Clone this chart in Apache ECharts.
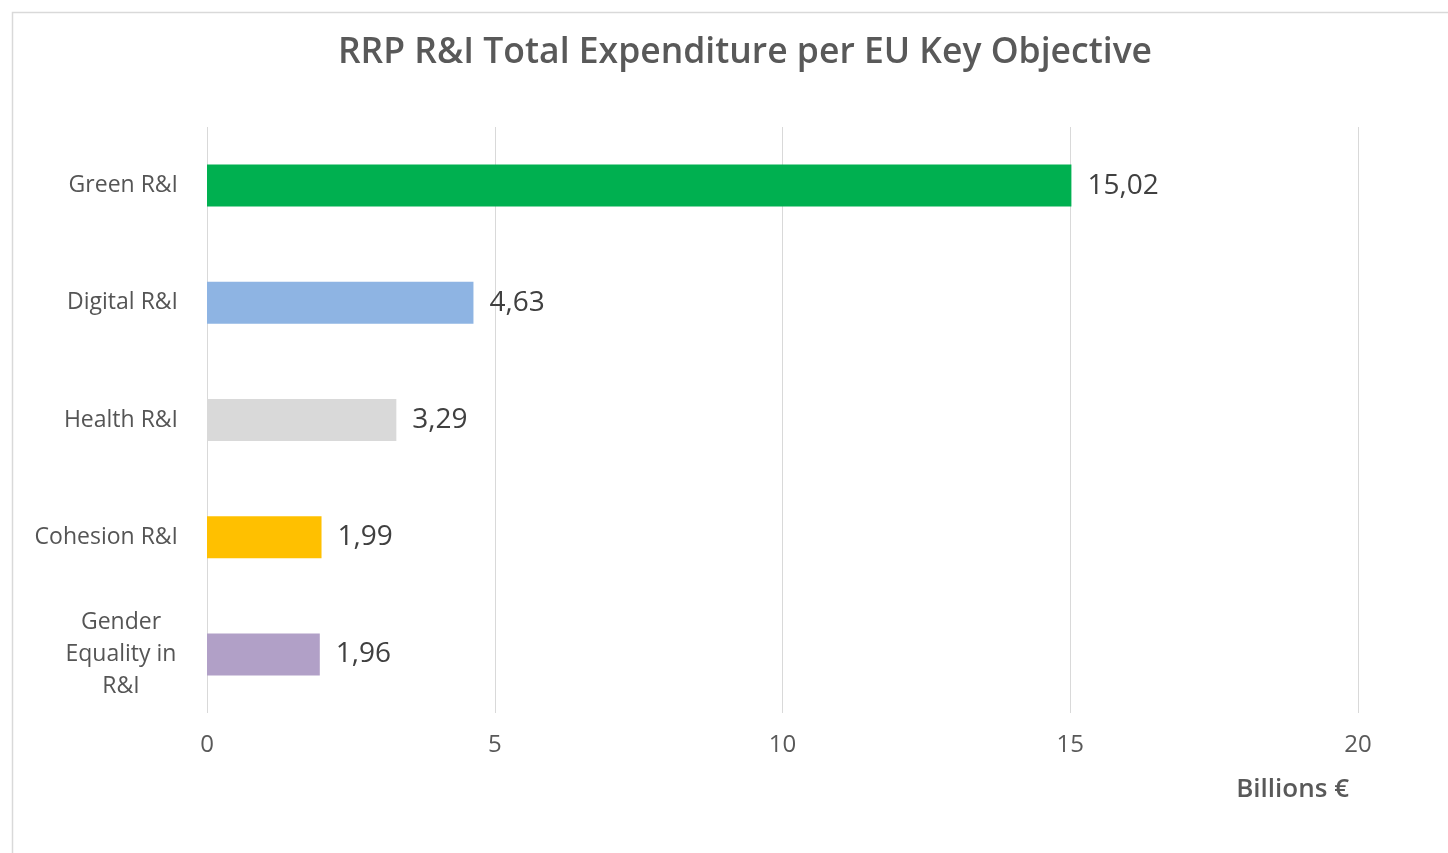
<!DOCTYPE html>
<html>
<head>
<meta charset="utf-8">
<script src="https://cdn.jsdelivr.net/npm/echarts@6/dist/echarts.min.js"></script>
<style>html,body{margin:0;padding:0;background:#fff;}#c{width:1448px;height:853px;}</style>
</head>
<body>
<div id="c"></div>
<script>
const categories = ['Green R&I', 'Digital R&I', 'Health R&I', 'Cohesion R&I', 'Gender Equality in R&I'];
const values = [15.02, 4.63, 3.29, 1.99, 1.96];
const colors = ['#00B050', '#8EB4E3', '#D9D9D9', '#FFC000', '#B1A0C7'];
const xTicks = [0, 5, 10, 15, 20];

const FONT = '"Open Sans", "Noto Sans", sans-serif';
const chart = echarts.init(document.getElementById('c'));
chart.setOption({
  animation: false,
  backgroundColor: '#fff',
  graphic: [{
    type: 'rect', shape: {x: 12.5, y: 12.5, width: 1480, height: 900},
    style: {fill: 'none', stroke: '#d9d9d9', lineWidth: 1.5}, silent: true, z: -1
  }],
  title: [{
    text: 'RRP R&I Total Expenditure per EU Key Objective',
    left: 740, top: 30, textAlign: 'center',
    textStyle: {fontFamily: FONT, fontSize: 35.5, fontWeight: 600, color: '#595959'}
  }, {
    text: 'Billions €',
    right: 94, top: 772,
    textStyle: {fontFamily: FONT, fontSize: 26, fontWeight: 600, color: '#595959'}
  }],
  grid: {left: 207, right: 90, top: 127, bottom: 140},
  xAxis: {
    type: 'value', min: 0, max: 20, interval: 5,
    axisLine: {show: false}, axisTick: {show: false},
    splitLine: {show: true, lineStyle: {color: '#d9d9d9', width: 1}},
    axisLabel: {margin: 20, fontFamily: FONT, fontSize: 24, color: '#595959',
      formatter: v => xTicks.includes(v) ? String(v) : ''}
  },
  yAxis: {
    type: 'category', inverse: true,
    data: categories,
    axisLine: {show: false}, axisTick: {show: false},
    axisLabel: {
      margin: 29, align: 'right', fontFamily: FONT, fontSize: 23, fontWeight: 500, color: '#555555',
      formatter: v => v === 'Gender Equality in R&I' ? '{w|Gender}\n{w|Equality in}\n{w|R&I}' : v,
      rich: {w: {width: 114, align: 'center', fontFamily: FONT, fontSize: 23, fontWeight: 500, color: '#555555', lineHeight: 32}}
    }
  },
  series: [{
    type: 'bar',
    barWidth: 42,
    data: values.map((v, i) => ({value: v, itemStyle: {color: colors[i]}})),
    label: {
      show: true, position: 'right', distance: 16,
      fontFamily: FONT, fontSize: 28, color: '#404040',
      formatter: p => p.value.toFixed(2).replace('.', ',')
    }
  }]
});
</script>
</body>
</html>
